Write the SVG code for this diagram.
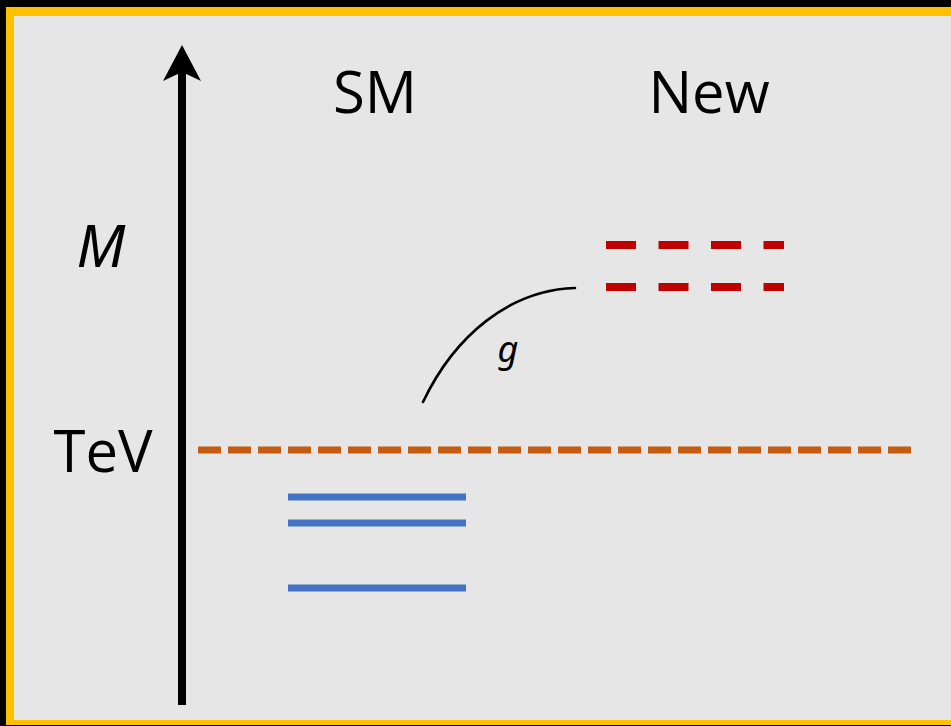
<svg xmlns="http://www.w3.org/2000/svg" width="951" height="726" viewBox="0 0 951 726">
<style>
.lbl{font-family:"Open Sans","Noto Sans",sans-serif;fill:#000;text-anchor:middle}
.it{font-family:"Noto Sans","DejaVu Sans",sans-serif;font-style:italic}
.sm{stroke:#4472C4;stroke-width:7;fill:none}
.new{stroke:#C00000;stroke-width:8;fill:none;stroke-dasharray:30 22.5}
</style>
<rect x="0" y="0" width="951" height="726" fill="#000"/>
<rect x="6" y="7" width="950" height="718" fill="#FFC000"/>
<rect x="14" y="16" width="940" height="704" fill="#E7E6E6"/>
<g id="axis">
<rect x="178" y="70" width="8" height="635" fill="#000"/>
<path d="M182,45 L201,81 L182,72 L163,81 Z" fill="#000"/>
</g>
<g id="label-SM"><text class="lbl" x="375" y="113" font-size="58">SM</text></g>
<g id="label-New"><text class="lbl" x="709" y="113" font-size="58">New</text></g>
<g id="label-M"><text class="lbl it" x="101" y="267" font-size="58">M</text></g>
<g id="label-TeV"><text class="lbl" x="103" y="472" font-size="58">TeV</text></g>
<g id="tev-line"><line x1="198" y1="450" x2="912" y2="450" stroke="#C55A11" stroke-width="7" stroke-dasharray="23 7"/></g>
<g id="sm-levels">
<line class="sm" x1="288" y1="497" x2="466" y2="497"/>
<line class="sm" x1="288" y1="523" x2="466" y2="523"/>
<line class="sm" x1="288" y1="588" x2="466" y2="588"/>
</g>
<g id="new-levels">
<line class="new" x1="606" y1="245" x2="784" y2="245"/>
<line class="new" x1="606" y1="287" x2="784" y2="287"/>
</g>
<g id="connectors">
<path d="M423,402 C455,335 510,290 575,288" fill="none" stroke="#000" stroke-width="2.6" stroke-linecap="round"/>
</g>
<g id="label-g"><text class="lbl it" x="508" y="362" font-size="36">g</text></g>
</svg>
